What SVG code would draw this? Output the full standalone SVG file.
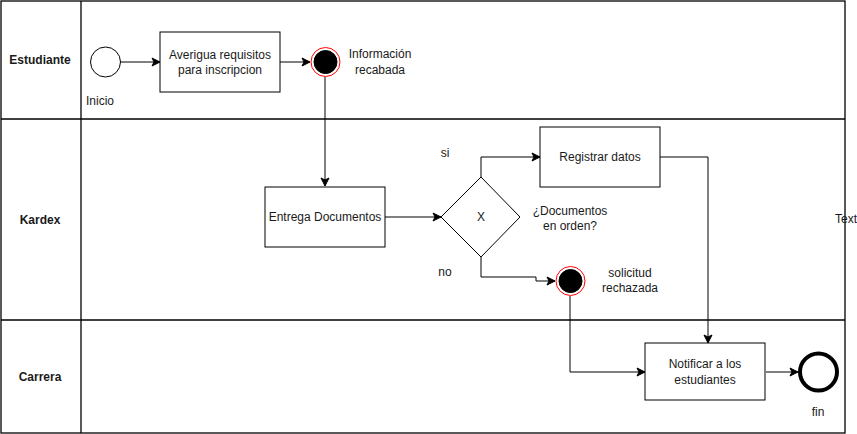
<svg xmlns="http://www.w3.org/2000/svg" width="857" height="434" viewBox="0 0 857 434">
<defs>
<marker id="arr" markerWidth="10" markerHeight="10" refX="9" refY="5" orient="auto" markerUnits="userSpaceOnUse">
<path d="M1,1 L9,5 L1,9 L3,5 Z" fill="#000" stroke="#000" stroke-width="1"/>
</marker>
</defs>
<style>
text{font-family:"Liberation Sans",Arial,sans-serif;font-size:12px;fill:#1a1a1a}
.lane{font-weight:bold}
.box{fill:#fff;stroke:#000;stroke-width:1}
.pool{fill:none;stroke:#000;stroke-width:1.3}
.conn{fill:none;stroke:#000;stroke-width:1}
.ca{fill:none;stroke:#000;stroke-width:1;marker-end:url(#arr)}
</style>
<rect x="0" y="0" width="857" height="434" fill="#fff"/>
<g id="pool">
<rect class="pool" x="1" y="1" width="844" height="432"/>
<line class="pool" x1="81" y1="1" x2="81" y2="433"/>
<line class="pool" x1="1" y1="119" x2="845" y2="119"/>
<line class="pool" x1="1" y1="320" x2="845" y2="320"/>
<text class="lane" x="40" y="64" text-anchor="middle">Estudiante</text>
<text class="lane" x="40" y="224" text-anchor="middle">Kardex</text>
<text class="lane" x="40" y="381" text-anchor="middle">Carrera</text>
</g>
<g id="connectors">
<path class="ca" d="M120,62 L160,62"/>
<path class="ca" d="M280,62 L310,62"/>
<path class="ca" d="M325,77 L325,186"/>
<path class="ca" d="M385,217 L441,217"/>
<path class="ca" d="M481,177 L481,157 L540,157"/>
<path class="ca" d="M481,257 L481,277 L536,277 L536,281 L555,281"/>
<path class="ca" d="M570,296 L570,372 L645,372"/>
<path class="ca" d="M660,157 L708,157 L708,343"/>
<path class="ca" d="M766,372 L798,372"/>
</g>
<g id="start">
<circle cx="105.5" cy="62" r="15" fill="#fff" stroke="#000" stroke-width="1"/>
<text x="86" y="105">Inicio</text>
</g>
<g id="averigua">
<rect class="box" x="160" y="32" width="120" height="60"/>
<text x="220" y="59" text-anchor="middle">Averigua requisitos</text>
<text x="220" y="74" text-anchor="middle">para inscripcion</text>
</g>
<g id="info">
<circle cx="325.5" cy="62" r="14.5" fill="#fff" stroke="#ff0000" stroke-width="1"/>
<circle cx="325.5" cy="62" r="11.5" fill="#000" stroke="#000" stroke-width="1"/>
<text x="380" y="58" text-anchor="middle">Información</text>
<text x="380" y="74" text-anchor="middle">recabada</text>
</g>
<g id="entrega">
<rect class="box" x="265" y="187" width="120" height="60"/>
<text x="325" y="221" text-anchor="middle">Entrega Documentos</text>
</g>
<g id="gateway">
<path d="M481,177 L520,217 L481,257 L441,217 Z" fill="#fff" stroke="#000" stroke-width="1"/>
<text x="481" y="221" text-anchor="middle">X</text>
<text x="570" y="215" text-anchor="middle">¿Documentos</text>
<text x="570" y="230" text-anchor="middle">en orden?</text>
<text x="445" y="157" text-anchor="middle">si</text>
<text x="445" y="276" text-anchor="middle">no</text>
</g>
<g id="registrar">
<rect class="box" x="540" y="127" width="120" height="60"/>
<text x="600" y="161" text-anchor="middle">Registrar datos</text>
</g>
<g id="rechazada">
<circle cx="570.5" cy="281" r="14.5" fill="#fff" stroke="#ff0000" stroke-width="1"/>
<circle cx="570.5" cy="281" r="11.5" fill="#000" stroke="#000" stroke-width="1"/>
<text x="630" y="277" text-anchor="middle">solicitud</text>
<text x="630" y="292" text-anchor="middle">rechazada</text>
</g>
<g id="notificar">
<rect class="box" x="645" y="343" width="120" height="57"/>
<text x="705" y="368" text-anchor="middle">Notificar a los</text>
<text x="705" y="384" text-anchor="middle">estudiantes</text>
</g>
<g id="fin">
<circle cx="818.5" cy="372" r="18.5" fill="#fff" stroke="#000" stroke-width="4"/>
<text x="818" y="416" text-anchor="middle">fin</text>
</g>
<g id="textlabel">
<text x="835" y="223">Text</text>
</g>
</svg>
